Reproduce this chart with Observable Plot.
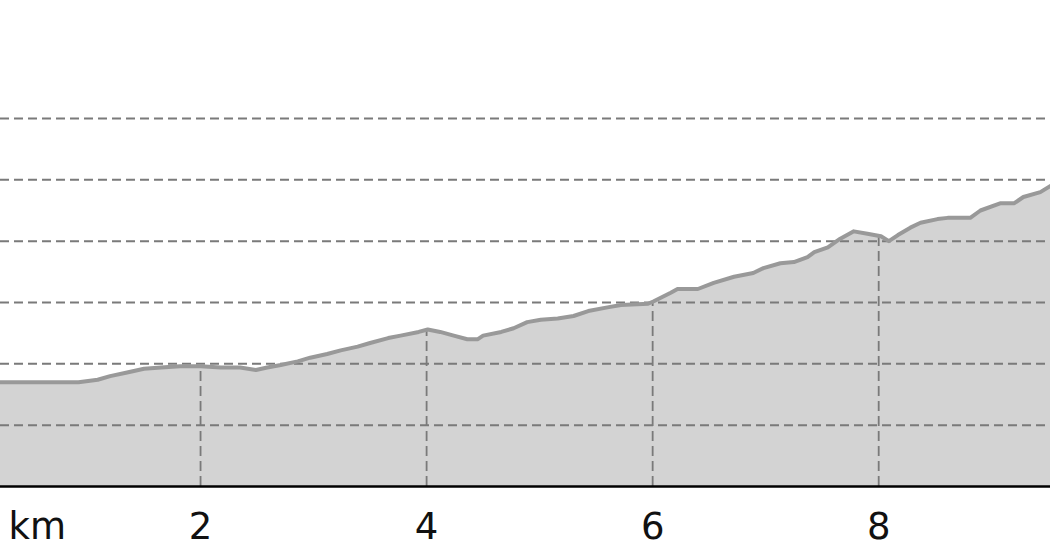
<!DOCTYPE html>
<html>
<head>
<meta charset="utf-8">
<script src="https://cdn.jsdelivr.net/npm/d3@7"></script>
<script src="https://cdn.jsdelivr.net/npm/@observablehq/plot@0.6"></script>
<style>
  html, body { margin: 0; padding: 0; background: #fff; }
  #chart svg { display: block; }
  #chart svg text { font-family: "DejaVu Sans", sans-serif; }
</style>
</head>
<body>
<div id="chart"></div>
<script>
// Distance along the route (km)
const distanceKm = [
  0.23, 0.92, 1.09, 1.20, 1.35, 1.50, 1.65, 1.82, 2.00, 2.18,
  2.35, 2.49, 2.59, 2.71, 2.86, 2.97, 3.12, 3.24, 3.39, 3.50,
  3.66, 3.77, 3.93, 4.01, 4.12, 4.24, 4.36, 4.45, 4.50, 4.66,
  4.77, 4.89, 5.01, 5.16, 5.30, 5.43, 5.60, 5.72, 5.96, 6.01,
  6.16, 6.22, 6.40, 6.54, 6.72, 6.89, 6.98, 7.13, 7.25, 7.37,
  7.43, 7.55, 7.66, 7.78, 7.90, 8.02, 8.09, 8.17, 8.28, 8.37,
  8.52, 8.61, 8.81, 8.90, 9.08, 9.20, 9.28, 9.43, 9.52
];
// Elevation (m)
const elevationM = [
  485, 485, 487, 490, 493, 496, 497, 498, 498, 497,
  497, 495, 497, 499, 502, 505, 508, 511, 514, 517,
  521, 523, 526, 528, 526, 523, 520, 520, 523, 526,
  529, 534, 536, 537, 539, 543, 546, 548, 549, 551,
  558, 561, 561, 566, 571, 574, 578, 582, 583, 587,
  591, 595, 602, 608, 606, 604, 600, 605, 611, 615,
  618, 619, 619, 625, 631, 631, 636, 640, 645
];
const xTicks = [2, 4, 6, 8];
const yGrid = [450, 500, 550, 600, 650, 700];
const baseElevation = 400;
const unitLabel = "km";

const profile = distanceKm.map((d, i) => ({ d, e: elevationM[i] }));
const interp = (x) => {
  for (let i = 1; i < profile.length; i++) {
    if (x <= profile[i].d) {
      const a = profile[i - 1], b = profile[i];
      return a.e + (b.e - a.e) * (x - a.d) / (b.d - a.d);
    }
  }
  return profile[profile.length - 1].e;
};
const vTicks = xTicks.map(t => ({ t, top: interp(t) }));

const chart = Plot.plot({
  width: 1050,
  height: 560,
  marginLeft: 0,
  marginRight: 0,
  marginTop: 0,
  marginBottom: 74,
  style: { fontFamily: "'DejaVu Sans', sans-serif", background: "#fff" },
  x: { domain: [distanceKm[0], distanceKm[distanceKm.length - 1]] },
  y: { domain: [baseElevation, 796.2], axis: null },
  marks: [
    Plot.areaY(profile, { x: "d", y1: baseElevation, y2: "e", fill: "#d3d3d3" }),
    Plot.ruleY(yGrid, { stroke: "#7a7a7a", strokeWidth: 2, strokeDasharray: "9,5" }),
    Plot.ruleX(vTicks, { x: "t", y1: baseElevation, y2: "top", stroke: "#7a7a7a", strokeWidth: 1.8, strokeDasharray: "10,5" }),
    Plot.lineY(profile, { x: "d", y: "e", stroke: "#999999", strokeWidth: 4 }),
    Plot.ruleY([baseElevation], { stroke: "#000", strokeWidth: 2.5 }),
    Plot.axisX(xTicks, { tickSize: 0, tickPadding: 26, fontSize: 37, fill: "#111" }),
    Plot.text([unitLabel], { x: distanceKm[0], frameAnchor: "bottom", dy: 41, dx: 8, textAnchor: "start", lineAnchor: "middle", fontSize: 37, fill: "#111" })
  ]
});
document.getElementById("chart").appendChild(chart);
</script>
</body>
</html>
